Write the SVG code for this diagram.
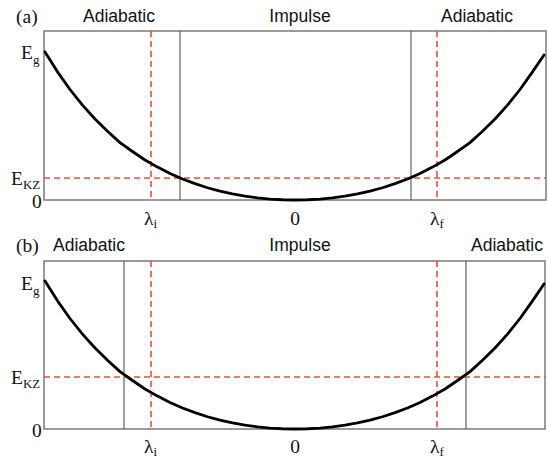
<svg xmlns="http://www.w3.org/2000/svg" width="548" height="460" viewBox="0 0 548 460">
<style>
.frame{fill:none;stroke:#7a7a7a;stroke-width:1.5}
.sep{stroke:#555;stroke-width:1.1}
.red{stroke:#e8503c;stroke-width:1.6;stroke-dasharray:6 4;fill:none}
.curve{fill:none;stroke:#000;stroke-width:2.8;stroke-linejoin:round;stroke-linecap:round}
.sans{font-family:"Liberation Sans",Arial,sans-serif;font-size:17.5px;fill:#111}
.serif{font-family:"Liberation Serif","Times New Roman",serif;font-size:19.5px;fill:#111}
.sub{font-size:13px}
</style>
<defs>
<path id="curve" class="curve" d="M45,-148.1 L57.5,-128.18 L70,-110.5 L82.5,-94.84 L95,-81 L107.5,-68.77 L120,-57.4 L132.5,-48.51 L145,-40 L157.5,-32.89 L170,-26.55 L182.5,-21.02 L195,-16.36 L207.5,-12.26 L220,-8.86 L232.5,-6.08 L245,-3.85 L257.5,-2.15 L270,-0.95 L282.5,-0.24 L295,0 L307.5,-0.24 L320,-0.95 L332.5,-2.15 L345,-3.85 L357.5,-6.08 L370,-8.86 L382.5,-12.26 L395,-16.36 L407.5,-21.02 L420,-26.55 L432.5,-32.89 L445,-40 L457.5,-48.51 L470,-57.4 L482.5,-68.77 L495,-81 L507.5,-94.84 L520,-110.5 L532.5,-128.18 L544,-145"/>
</defs>

<g id="panel-a">
  <text class="serif" x="16" y="23">(a)</text>
  <text class="sans" x="119" y="22" text-anchor="middle">Adiabatic</text>
  <text class="sans" x="300" y="22" text-anchor="middle">Impulse</text>
  <text class="sans" x="477" y="22" text-anchor="middle">Adiabatic</text>
  <rect class="frame" x="44" y="31" width="502" height="169"/>
  <line class="sep" x1="180" y1="31" x2="180" y2="200"/>
  <line class="sep" x1="411" y1="31" x2="411" y2="200"/>
  <line class="red" x1="151" y1="31" x2="151" y2="200"/>
  <line class="red" x1="437" y1="31" x2="437" y2="200"/>
  <line class="red" x1="44" y1="178" x2="546" y2="178"/>
  <use href="#curve" transform="translate(0,200)"/>
  <text class="serif" x="21" y="59">E<tspan class="sub" dy="5">g</tspan></text>
  <text class="serif" x="11" y="185">E<tspan class="sub" dy="4">KZ</tspan></text>
  <text class="serif" x="32" y="208">0</text>
  <text class="serif" x="144" y="225">λ<tspan class="sub" dy="3">i</tspan></text>
  <text class="serif" x="295" y="225" text-anchor="middle">0</text>
  <text class="serif" x="430" y="225">λ<tspan class="sub" dy="3">f</tspan></text>
</g>

<g id="panel-b">
  <text class="serif" x="16" y="252">(b)</text>
  <text class="sans" x="89" y="251" text-anchor="middle">Adiabatic</text>
  <text class="sans" x="300" y="251" text-anchor="middle">Impulse</text>
  <text class="sans" x="507" y="251" text-anchor="middle">Adiabatic</text>
  <rect class="frame" x="44" y="261" width="501" height="168"/>
  <line class="sep" x1="124" y1="261" x2="124" y2="429"/>
  <line class="sep" x1="466" y1="261" x2="466" y2="429"/>
  <line class="red" x1="151" y1="261" x2="151" y2="429"/>
  <line class="red" x1="437" y1="261" x2="437" y2="429"/>
  <line class="red" x1="44" y1="377" x2="545" y2="377"/>
  <use href="#curve" transform="translate(0,429)"/>
  <text class="serif" x="21" y="290">E<tspan class="sub" dy="5">g</tspan></text>
  <text class="serif" x="11" y="384">E<tspan class="sub" dy="4">KZ</tspan></text>
  <text class="serif" x="32" y="437">0</text>
  <text class="serif" x="144" y="453">λ<tspan class="sub" dy="3">i</tspan></text>
  <text class="serif" x="295" y="453" text-anchor="middle">0</text>
  <text class="serif" x="430" y="453">λ<tspan class="sub" dy="3">f</tspan></text>
</g>
</svg>
